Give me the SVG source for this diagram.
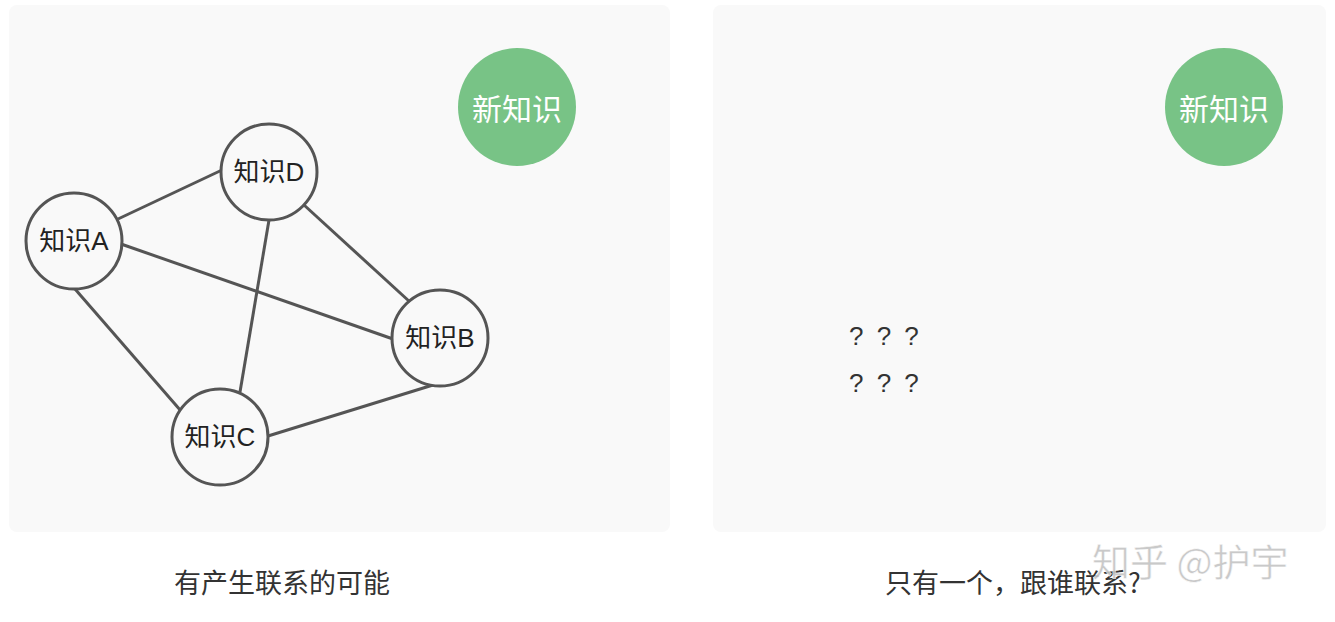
<svg xmlns="http://www.w3.org/2000/svg" width="1335" height="622" viewBox="0 0 1335 622">
<style>
.panel{fill:#f9f9f9}
.node{fill:#f9f9f9;stroke:#555;stroke-width:3}
.new{fill:#78c386}
.lbl{font-family:"Liberation Sans","Noto Sans CJK SC",sans-serif;font-size:26px;fill:#222;text-anchor:middle;dominant-baseline:central}
.newlbl{font-family:"Noto Sans CJK SC",sans-serif;font-size:30px;fill:#fff;text-anchor:middle;dominant-baseline:central}
.edge{stroke:#555;stroke-width:3;fill:none}
.cap{font-family:"Noto Sans CJK SC",sans-serif;font-size:27px;fill:#333;text-anchor:middle}
.q{font-family:"Liberation Sans",sans-serif;font-size:26px;fill:#333;letter-spacing:3px}
</style>
<rect width="1335" height="622" fill="#fff"/>
<rect class="panel" x="9" y="5" width="661" height="527" rx="8"/>
<rect class="panel" x="713" y="5" width="613" height="527" rx="8"/>
<g id="connectors">
<line class="edge" x1="118" y1="219" x2="222" y2="170"/>
<line class="edge" x1="121" y1="244" x2="393" y2="339"/>
<line class="edge" x1="75" y1="289" x2="181" y2="411"/>
<line class="edge" x1="269" y1="220" x2="240" y2="392"/>
<line class="edge" x1="304" y1="205" x2="410" y2="302"/>
<line class="edge" x1="268" y1="436" x2="433" y2="385"/>
</g>
<g id="nodeA"><circle class="node" cx="74" cy="241" r="48"/><text class="lbl" x="74" y="241">知识A</text></g>
<g id="nodeD"><circle class="node" cx="269" cy="172" r="48"/><text class="lbl" x="269" y="172">知识D</text></g>
<g id="nodeB"><circle class="node" cx="440" cy="338" r="48"/><text class="lbl" x="440" y="338">知识B</text></g>
<g id="nodeC"><circle class="node" cx="220" cy="437" r="48"/><text class="lbl" x="220" y="437">知识C</text></g>
<g id="newLeft"><circle class="new" cx="517" cy="107" r="59"/><text class="newlbl" x="517" y="107">新知识</text></g>
<g id="newRight"><circle class="new" cx="1224" cy="107" r="59"/><text class="newlbl" x="1224" y="107">新知识</text></g>
<g id="questions">
<text class="q" x="849" y="345">? ? ?</text>
<text class="q" x="849" y="392">? ? ?</text>
</g>
<text class="cap" x="282" y="593">有产生联系的可能</text>
<text class="cap" x="1013" y="593">只有一个，跟谁联系?</text>
<text x="1092" y="576" font-family="Noto Sans CJK SC,sans-serif" font-size="38" fill="#c4c4c4" stroke="#fff" stroke-width="0.5" opacity="0.9">知乎 @护宇</text>
</svg>
